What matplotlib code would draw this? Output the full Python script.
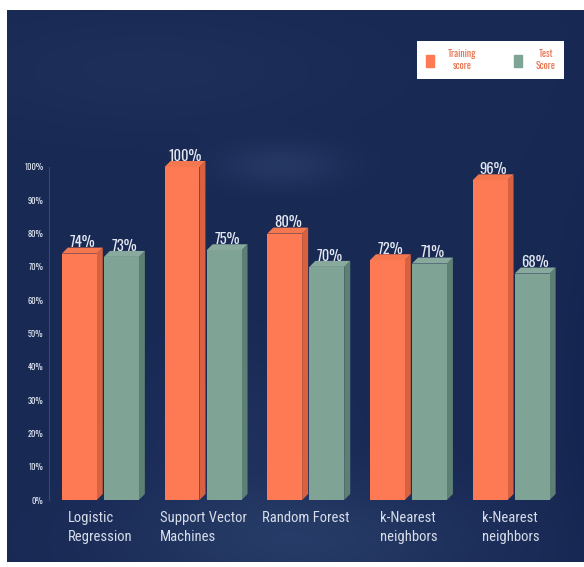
import numpy as np
import matplotlib
matplotlib.use("Agg")
import matplotlib.pyplot as plt
from matplotlib.patches import Polygon, Patch

# data
models = ["Logistic\nRegression", "Support Vector\nMachines", "Random Forest",
          "k-Nearest\nneighbors", "k-Nearest\nneighbors"]
train_score = [74, 100, 80, 72, 96]
test_score = [73, 75, 70, 71, 68]
ytick_vals = [0, 10, 20, 30, 40, 50, 60, 70, 80, 90, 100]

orange = "#fd7a54"
orange_side = "#d8623f"
orange_top = "#f4774f"
teal = "#7fa496"
teal_side = "#5e8074"
teal_top = "#88a99c"
label_col = "#e3e8f1"
cond = ["Roboto Condensed", "DejaVu Sans"]
tall = ["Oswald", "Roboto Condensed", "DejaVu Sans"]

W, H = 584, 567
fig = plt.figure(figsize=(W / 100, H / 100), dpi=100, facecolor="white")

# dark panel background with soft lighter patches
px0, py0, px1, py1 = 7, 10, 584, 562
bg = fig.add_axes([px0 / W, 1 - py1 / H, (px1 - px0) / W, (py1 - py0) / H])
yy, xx = np.mgrid[py0:py1, px0:px1].astype(float)
base = np.array([24, 41, 84], float) / 255
img = np.ones(xx.shape + (3,)) * base

def blob(cx, cy, sx, sy, col, amt):
    g = np.exp(-(((xx - cx) / sx) ** 2 + ((yy - cy) / sy) ** 2)) * amt
    return g[..., None] * (np.array(col, float) / 255 - base)

img += blob(280, 165, 60, 22, (52, 72, 115), 0.45)
img += blob(300, 540, 170, 60, (50, 73, 118), 0.55)
img += blob(150, 70, 200, 60, (32, 50, 92), 0.7)
img += blob(230, 430, 90, 80, (38, 58, 102), 0.4)
img += blob(600, 400, 40, 200, (18, 33, 78), 0.6)
bg.imshow(np.clip(img, 0, 1), aspect="auto", interpolation="bilinear")
bg.set_axis_off()

# main axes: x=-0.5 at px 49, 102.75 px per group; y 0..100 -> px 500..167
ax = fig.add_axes([49 / W, 1 - 500 / H, 534 / W, 333 / H])
ax.set_facecolor("none")
ax.set_xlim(-0.5, 4.7)
ax.set_ylim(0, 100)

x = np.arange(len(models))
off, bw = 0.205, 0.34
dx = 6 / 102.75
dy = 6 / 3.33


def bar3d(xc, vals, front, side, top):
    bars = ax.bar(xc, vals, width=bw, color=front, zorder=3, clip_on=False)
    for b in bars:
        x0, x1, h = b.get_x(), b.get_x() + b.get_width(), b.get_height()
        ax.add_patch(Polygon([(x1, 0), (x1 + dx, dy), (x1 + dx, h + dy), (x1, h)],
                             closed=True, color=side, zorder=2, clip_on=False, lw=0))
        ax.add_patch(Polygon([(x0, h), (x0 + dx, h + dy), (x1 + dx, h + dy), (x1, h)],
                             closed=True, color=top, zorder=2, clip_on=False, lw=0))
        ax.text((x0 + x1 + dx) / 2, h + dy - 0.8, f"{h:.0f}%", ha="center", va="bottom",
                color=label_col, fontsize=10.5, family=tall, fontweight="light", zorder=4)
    return bars


bar3d(x - off, train_score, orange, orange_side, orange_top)
bar3d(x + off, test_score, teal, teal_side, teal_top)

ax.set_xticks(x)
ax.set_xticklabels(models, fontsize=10.5, family=cond, color="#d7dde9", linespacing=1.4)
for t in ax.get_xticklabels():
    t.set_multialignment("left")
ax.tick_params(axis="x", length=0, pad=8)

ax.set_yticks(ytick_vals)
ax.set_yticklabels([f"{v}%" for v in ytick_vals], fontsize=6, family=tall,
                   color="#e6ecf6")
ax.tick_params(axis="y", length=0, pad=4)

for s in ["top", "right", "bottom"]:
    ax.spines[s].set_visible(False)
ax.spines["left"].set_color("#34497a")
ax.spines["left"].set_linewidth(0.8)

handles = [Patch(color=orange), Patch(color=teal)]
leg = fig.legend(handles, ["Training\nscore", "Test\nScore"], ncol=2,
                 loc="upper right", bbox_to_anchor=(564 / W, 1 - 41 / H),
                 prop={"family": tall, "size": 7, "weight": "light"},
                 frameon=True, fancybox=False, framealpha=1, edgecolor="white",
                 handlelength=0.9, handleheight=1.6, handletextpad=1.4,
                 columnspacing=3.8, borderpad=0.85, borderaxespad=0,
                 labelcolor="#e8714c")
leg.get_frame().set_linewidth(0)
for t in leg.get_texts():
    t.set_multialignment("center")

fig.savefig("out.png", dpi=100, facecolor="white")
